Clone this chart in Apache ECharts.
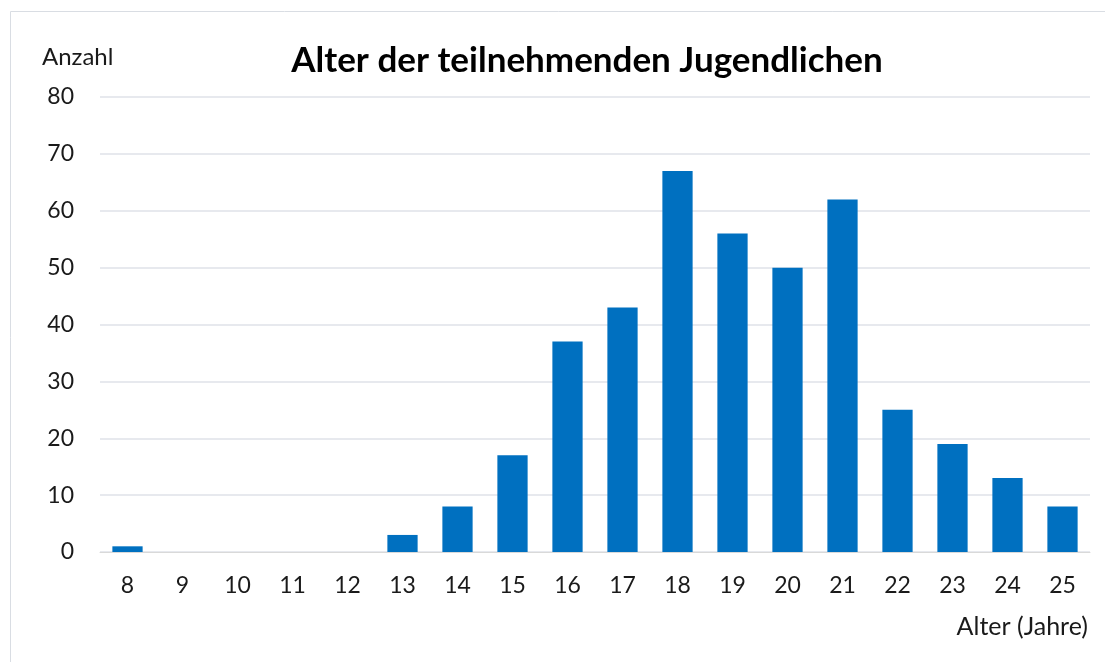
<!DOCTYPE html>
<html>
<head>
<meta charset="utf-8">
<script src="https://cdn.jsdelivr.net/npm/echarts@6/dist/echarts.min.js"></script>
<style>
  html, body { margin: 0; padding: 0; background: #fff; }
  #main { width: 1105px; height: 662px; }
</style>
</head>
<body>
<div id="main"></div>
<script>
// Alter (Jahre) -> Anzahl
const ages = ['8', '9', '10', '11', '12', '13', '14', '15', '16', '17', '18', '19', '20', '21', '22', '23', '24', '25'];
const counts = [1, 0, 0, 0, 0, 3, 8, 17, 37, 43, 67, 56, 50, 62, 25, 19, 13, 8];

const font = 'Lato, "Open Sans", sans-serif';
const chart = echarts.init(document.getElementById('main'));

const option = {
  animation: false,
  textStyle: { fontFamily: font },
  title: {
    text: 'Alter der teilnehmenden Jugendlichen',
    left: 582,
    textAlign: 'center',
    top: 38,
    textStyle: { fontSize: 35, fontWeight: 'bold', color: '#000', fontFamily: font }
  },
  graphic: [{
    type: 'rect',
    shape: { x: 10.5, y: 11.5, width: 1100, height: 660 },
    style: { fill: 'none', stroke: '#d9dde3', lineWidth: 1 },
    silent: true
  }],
  grid: { left: 100, right: 15, top: 97, bottom: 110, containLabel: false },
  xAxis: {
    type: 'category',
    data: ages,
    name: 'Alter (Jahre)',
    nameLocation: 'end',
    nameGap: 0,
    nameTextStyle: {
      fontSize: 25, color: '#1a1a1a', align: 'right', verticalAlign: 'top',
      padding: [62, 2, 0, 0]
    },
    axisLine: { show: true, lineStyle: { color: '#d9d9d9', width: 1 } },
    axisTick: { show: false },
    axisLabel: { fontSize: 23, color: '#1a1a1a', margin: 22 }
  },
  yAxis: {
    type: 'value',
    min: 0,
    max: 80,
    interval: 10,
    name: 'Anzahl',
    nameLocation: 'end',
    nameGap: 28,
    nameTextStyle: { fontSize: 24, color: '#1a1a1a', align: 'left', padding: [0, 0, 0, -58] },
    axisLine: { show: false },
    axisTick: { show: false },
    axisLabel: { fontSize: 23, color: '#1a1a1a', margin: 26 },
    splitLine: { lineStyle: { color: '#dfe2e8', width: 1.5 } }
  },
  series: [{
    type: 'bar',
    data: counts,
    barWidth: '55%',
    itemStyle: { color: '#0070c0' }
  }]
};

chart.setOption(option);
</script>
</body>
</html>
